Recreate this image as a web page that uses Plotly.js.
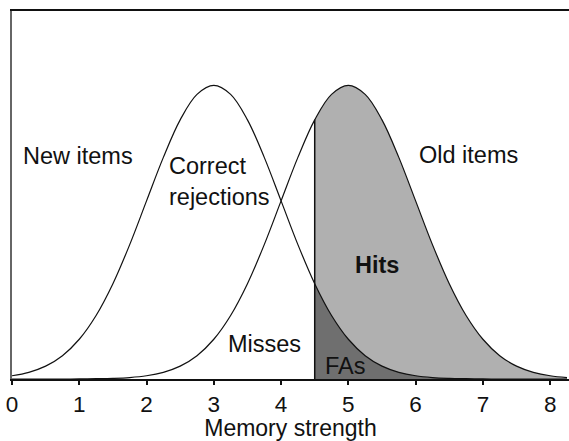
<!DOCTYPE html>
<html>
<head>
<meta charset="utf-8">
<script src="https://cdn.plot.ly/plotly-3.0.1.min.js"></script>
<style>html,body{margin:0;padding:0;background:#fff;}#chart{width:569px;height:441px;}</style>
</head>
<body>
<div id="chart"></div>
<script>
// Memory strength values (x) and curve heights
var strength = [0,0.25,0.5,0.75,1,1.25,1.5,1.75,2,2.25,2.5,2.75,3,3.25,3.5,3.75,4,4.25,4.5,4.75,5,5.25,5.5,5.75,6,6.25,6.5,6.75,7,7.25,7.5,7.75,8,8.25];
var newItems = [0.0044,0.0091,0.0175,0.0317,0.0540,0.0863,0.1295,0.1826,0.2420,0.3011,0.3521,0.3867,0.3989,0.3867,0.3521,0.3011,0.2420,0.1826,0.1295,0.0863,0.0540,0.0317,0.0175,0.0091,0.0044,0.0020,0.0009,0.0004,0.0001,0,0,0,0,0];
var oldItems = [0,0,0,0,0.0001,0.0004,0.0009,0.0020,0.0044,0.0091,0.0175,0.0317,0.0540,0.0863,0.1295,0.1826,0.2420,0.3011,0.3521,0.3867,0.3989,0.3867,0.3521,0.3011,0.2420,0.1826,0.1295,0.0863,0.0540,0.0317,0.0175,0.0091,0.0044,0.0020];
var criterion = 4.5;
var tickVals = [0,1,2,3,4,5,6,7,8];
var tickText = ['0','1','2','3','4','5','6','7','8'];

var fillX = [], fillOld = [], fillNew = [];
for (var i = 0; i < strength.length; i++) {
  if (strength[i] >= criterion) { fillX.push(strength[i]); fillOld.push(oldItems[i]); fillNew.push(newItems[i]); }
}
var oldAtCrit = oldItems[strength.indexOf(criterion)];

var font = 'Liberation Sans, Arial, sans-serif';
var traces = [
  {x: fillX, y: fillOld, type: 'scatter', mode: 'lines', fill: 'tozeroy', fillcolor: '#b0b0b0', line: {width: 0, shape: 'spline', color: '#b0b0b0'}, hoverinfo: 'skip'},
  {x: fillX, y: fillNew, type: 'scatter', mode: 'lines', fill: 'tozeroy', fillcolor: '#6f6f6f', line: {width: 0, shape: 'spline', color: '#6f6f6f'}, hoverinfo: 'skip'},
  {x: strength, y: newItems, type: 'scatter', mode: 'lines', line: {color: '#111', width: 1.2, shape: 'spline'}},
  {x: strength, y: oldItems, type: 'scatter', mode: 'lines', line: {color: '#111', width: 1.2, shape: 'spline'}},
  {x: [criterion, criterion], y: [0, oldAtCrit], type: 'scatter', mode: 'lines', line: {color: '#111', width: 1.5}}
];

function ann(text, x, y, anchor, bold, align) {
  return {text: bold ? '<b>' + text + '</b>' : text, x: x, y: y, xref: 'x', yref: 'y', xanchor: anchor, yanchor: 'middle', align: align || 'center', showarrow: false, font: {family: font, size: 23.5, color: '#111'}};
}

var layout = {
  width: 569, height: 441,
  margin: {l: 12, r: 0, t: 11, b: 62},
  paper_bgcolor: '#fff', plot_bgcolor: '#fff',
  showlegend: false,
  xaxis: {
    range: [0, 8.28], showgrid: false, zeroline: false,
    showline: true, linecolor: '#111', linewidth: 2, mirror: true,
    ticks: 'outside', ticklen: 4, tickwidth: 2, tickcolor: '#111',
    tickvals: tickVals, ticktext: tickText,
    tickfont: {family: font, size: 22.5, color: '#111'},
    title: {text: 'Memory strength', font: {family: font, size: 23, color: '#111'}, standoff: 8}
  },
  yaxis: {
    range: [0, 0.5], showgrid: false, zeroline: false,
    showline: true, linecolor: '#666', linewidth: 2,
    showticklabels: false, ticks: ''
  },
  annotations: [
    ann('New items', 0.98, 0.303, 'center'),
    ann('Correct<br>rejections', 2.30, 0.268, 'left', false, 'left'),
    ann('Old items', 6.78, 0.304, 'center'),
    ann('Misses', 3.75, 0.048, 'center'),
    ann('FAs', 4.95, 0.017, 'center'),
    ann('Hits', 5.42, 0.155, 'center', true)
  ]
};

Plotly.newPlot('chart', traces, layout, {displayModeBar: false, staticPlot: true});
</script>
</body>
</html>
